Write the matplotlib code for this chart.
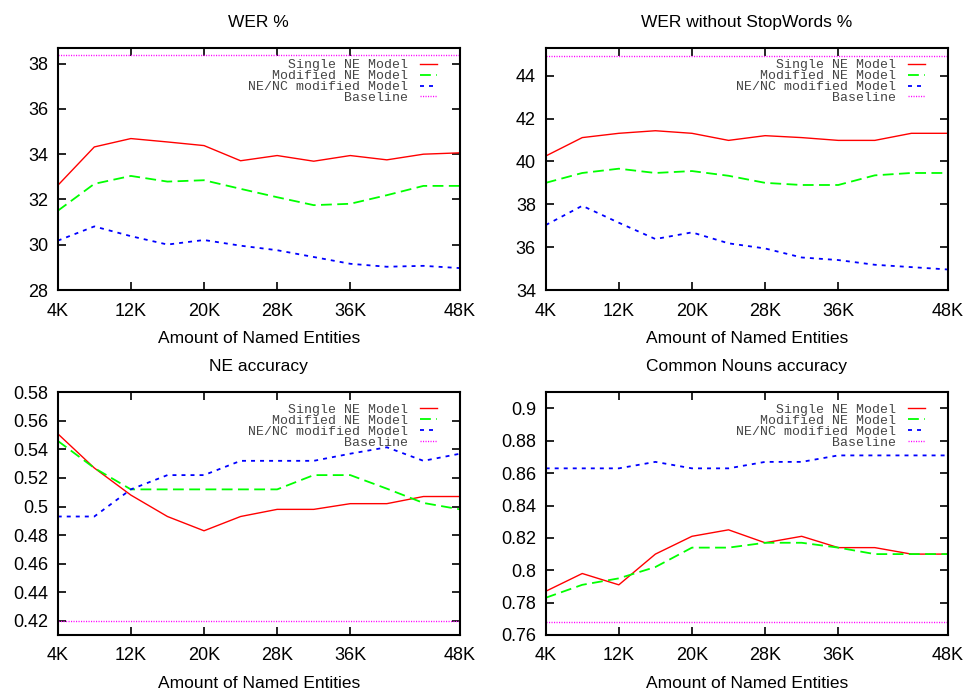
" WER and accuracy against amount of named entities, four panels "
import matplotlib
matplotlib.use("Agg")
import matplotlib.pyplot as plt
from matplotlib.ticker import FormatStrFormatter

plt.rcParams.update({'font.family': ['Liberation Sans', 'DejaVu Sans'],
                     'font.size': 13})

ents = [4, 8, 12, 16, 20, 24, 28, 32, 36, 40, 44, 48]
xticks = [4, 12, 20, 28, 36, 48]
xlabels = ["4K", "12K", "20K", "28K", "36K", "48K"]
names = ["Single NE Model", "Modified NE Model", "NE/NC modified Model",
         "Baseline"]

wer_single = [32.62, 34.32, 34.69, 34.54, 34.38, 33.71, 33.94, 33.69, 33.94,
              33.75, 34.0, 34.06]
wer_mod = [31.5, 32.69, 33.04, 32.79, 32.85, 32.47, 32.1, 31.75, 31.81,
           32.19, 32.6, 32.6]
wer_nenc = [30.18, 30.81, 30.38, 30.01, 30.21, 29.96, 29.76, 29.46, 29.16,
            29.03, 29.07, 28.97]
wer_base = 38.4

wsw_single = [40.25, 41.11, 41.31, 41.43, 41.31, 40.98, 41.2, 41.11, 40.98,
              40.98, 41.31, 41.31]
wsw_mod = [39.0, 39.46, 39.66, 39.46, 39.55, 39.33, 39.0, 38.9, 38.9, 39.35,
           39.46, 39.46]
wsw_nenc = [37.03, 37.93, 37.14, 36.38, 36.69, 36.18, 35.94, 35.52, 35.4,
            35.18, 35.07, 34.96]
wsw_base = 44.92

ne_single = [0.551, 0.527, 0.508, 0.493, 0.483, 0.493, 0.498, 0.498, 0.502,
             0.502, 0.507, 0.507]
ne_mod = [0.546, 0.527, 0.512, 0.512, 0.512, 0.512, 0.512, 0.522, 0.522,
          0.5125, 0.5025, 0.498]
ne_nenc = [0.493, 0.493, 0.512, 0.522, 0.522, 0.532, 0.532, 0.532, 0.537,
           0.5415, 0.532, 0.537]
ne_base = 0.42

cn_single = [0.787, 0.798, 0.791, 0.810, 0.821, 0.825, 0.817, 0.821, 0.814,
             0.814, 0.810, 0.810]
cn_mod = [0.783, 0.791, 0.795, 0.802, 0.814, 0.814, 0.817, 0.817, 0.814,
          0.810, 0.810, 0.810]
cn_nenc = [0.863, 0.863, 0.863, 0.867, 0.863, 0.863, 0.867, 0.867, 0.871,
           0.871, 0.871, 0.871]
cn_base = 0.768


def panel(ax, title, single, mod, nenc, base, ylim, yticks, fmt):
    " one gnuplot-like panel "
    ax.plot(ents, single, color="#ff0000", lw=1.0, label=names[0])
    ax.plot(ents, mod, color="#00ff00", lw=1.3, dashes=(6, 3),
            label=names[1])
    ax.plot(ents, nenc, color="#0000ff", lw=1.3, dashes=(2.2, 2.8),
            label=names[2])
    ax.axhline(base, color="#ff00ff", lw=1.0, dashes=(0.8, 1.0),
               label=names[3])
    ax.set_xlim(4, 48)
    ax.set_ylim(ylim)
    ax.set_xticks(xticks)
    ax.set_xticklabels(xlabels)
    ax.set_yticks(yticks)
    ax.yaxis.set_major_formatter(FormatStrFormatter(fmt))
    ax.tick_params(direction="in", length=6, width=1.2, top=True,
                   right=True, labelsize=13)
    ax.tick_params(axis="x", pad=9)
    ax.tick_params(axis="y", pad=7)
    for sp in ax.spines.values():
        sp.set_linewidth(1.5)
    ax.set_title(title, fontsize=12.5, pad=15)
    ax.set_xlabel("Amount of Named Entities", fontsize=12.5, labelpad=8)
    leg = ax.legend(loc="upper right", bbox_to_anchor=(0.957, 0.975),
                    borderaxespad=0, frameon=False, markerfirst=False,
                    handlelength=1.35, handletextpad=0.85,
                    labelspacing=-0.1,
                    prop={'family': 'Liberation Mono', 'size': 9.5})
    for t in leg.get_texts():
        t.set_color("#444444")


fig = plt.figure(figsize=(9.67, 6.89), dpi=100)
ax1 = fig.add_axes([0.0597, 0.579, 0.416, 0.3517])
ax2 = fig.add_axes([0.5643, 0.579, 0.416, 0.3517])
ax3 = fig.add_axes([0.0597, 0.0784, 0.416, 0.3522])
ax4 = fig.add_axes([0.5643, 0.0784, 0.416, 0.3522])

panel(ax1, "WER %", wer_single, wer_mod, wer_nenc, wer_base,
      (28, 38.7), [28, 30, 32, 34, 36, 38], "%g")
panel(ax2, "WER without StopWords %", wsw_single, wsw_mod, wsw_nenc,
      wsw_base, (34, 45.3), [34, 36, 38, 40, 42, 44], "%g")
panel(ax3, "NE accuracy", ne_single, ne_mod, ne_nenc, ne_base,
      (0.41, 0.58), [0.42, 0.44, 0.46, 0.48, 0.5, 0.52, 0.54, 0.56, 0.58],
      "%g")
panel(ax4, "Common Nouns accuracy", cn_single, cn_mod, cn_nenc, cn_base,
      (0.76, 0.91), [0.76, 0.78, 0.8, 0.82, 0.84, 0.86, 0.88, 0.9], "%g")

fig.savefig("out.png", dpi=100)
